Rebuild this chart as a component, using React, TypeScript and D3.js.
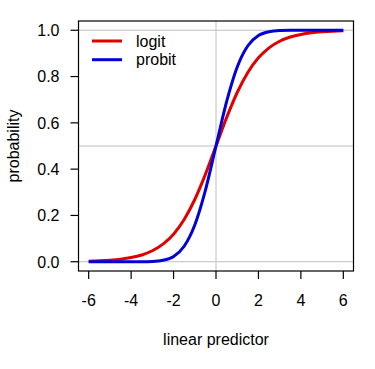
import * as d3 from "d3";

const xs = [-6, -5.5, -5, -4.5, -4, -3.5, -3, -2.5, -2, -1.5, -1, -0.5, 0, 0.5, 1, 1.5, 2, 2.5, 3, 3.5, 4, 4.5, 5, 5.5, 6];
const logit = [0.0025, 0.0041, 0.0067, 0.011, 0.018, 0.0293, 0.0474, 0.0759, 0.1192, 0.1824, 0.2689, 0.3775, 0.5, 0.6225, 0.7311, 0.8176, 0.8808, 0.9241, 0.9526, 0.9707, 0.982, 0.989, 0.9933, 0.9959, 0.9975];
const probit = [0, 0, 0, 0, 0, 0.0002, 0.0013, 0.0062, 0.0228, 0.0668, 0.1587, 0.3085, 0.5, 0.6915, 0.8413, 0.9332, 0.9772, 0.9938, 0.9987, 0.9998, 1, 1, 1, 1, 1];
const xTicks = [-6, -4, -2, 0, 2, 4, 6];
const yTicks = [0, 0.2, 0.4, 0.6, 0.8, 1];
const refH = [0, 0.5, 1];
const refV = [0];
const series = [
  { name: "logit", values: logit, color: "#e00000" },
  { name: "probit", values: probit, color: "#0000d8" },
];

const W = 375;
const H = 369;
const box = { left: 78.5, right: 353.5, top: 21, bottom: 271 };
const font = "'Liberation Sans', Arial, sans-serif";
const fs = 16;

export default function App() {
  const x = d3.scaleLinear().domain([-6.48, 6.48]).range([box.left, box.right]);
  const y = d3.scaleLinear().domain([-0.04, 1.04]).range([box.bottom, box.top]);

  const line = d3
    .line<number>()
    .x((_, i) => x(xs[i]))
    .y((d) => y(d))
    .curve(d3.curveMonotoneX);

  return (
    <svg width={W} height={H} style={{ position: "absolute", left: 0, top: 0, background: "#fff" }} fontFamily={font}>
      <rect x={0} y={0} width={W} height={H} fill="#fff" />
      {refH.map((v) => (
        <line key={"h" + v} x1={box.left} x2={box.right} y1={y(v)} y2={y(v)} stroke="#bebebe" strokeWidth={1} />
      ))}
      {refV.map((v) => (
        <line key={"v" + v} x1={x(v)} x2={x(v)} y1={box.top} y2={box.bottom} stroke="#bebebe" strokeWidth={1} />
      ))}
      {series.map((s) => (
        <path key={s.name} d={line(s.values) || ""} fill="none" stroke={s.color} strokeWidth={3} strokeLinejoin="round" />
      ))}
      <rect x={box.left} y={box.top} width={box.right - box.left} height={box.bottom - box.top} fill="none" stroke="#000" strokeWidth={1.2} />
      {xTicks.map((t) => (
        <g key={"xt" + t}>
          <line x1={x(t)} x2={x(t)} y1={box.bottom} y2={box.bottom + 8} stroke="#000" strokeWidth={1.2} />
          <text x={x(t)} y={box.bottom + 35} textAnchor="middle" fontSize={fs} fill="#000">
            {t}
          </text>
        </g>
      ))}
      {yTicks.map((t) => (
        <g key={"yt" + t}>
          <line x1={box.left - 8} x2={box.left} y1={y(t)} y2={y(t)} stroke="#000" strokeWidth={1.2} />
          <text x={box.left - 19} y={y(t)} dy="0.36em" textAnchor="end" fontSize={fs} fill="#000">
            {d3.format(".1f")(t)}
          </text>
        </g>
      ))}
      <text x={(box.left + box.right) / 2} y={345} textAnchor="middle" fontSize={fs} fill="#000">
        linear predictor
      </text>
      <text transform={`translate(19,${(box.top + box.bottom) / 2}) rotate(-90)`} textAnchor="middle" fontSize={fs} fill="#000">
        probability
      </text>
      {series.map((s, i) => (
        <g key={"lg" + s.name} transform={`translate(92,${41 + i * 18.7})`}>
          <line x1={0} x2={30} y1={0} y2={0} stroke={s.color} strokeWidth={3} />
          <text x={44} y={0} dy="0.36em" fontSize={fs} fill="#000">
            {s.name}
          </text>
        </g>
      ))}
    </svg>
  );
}
